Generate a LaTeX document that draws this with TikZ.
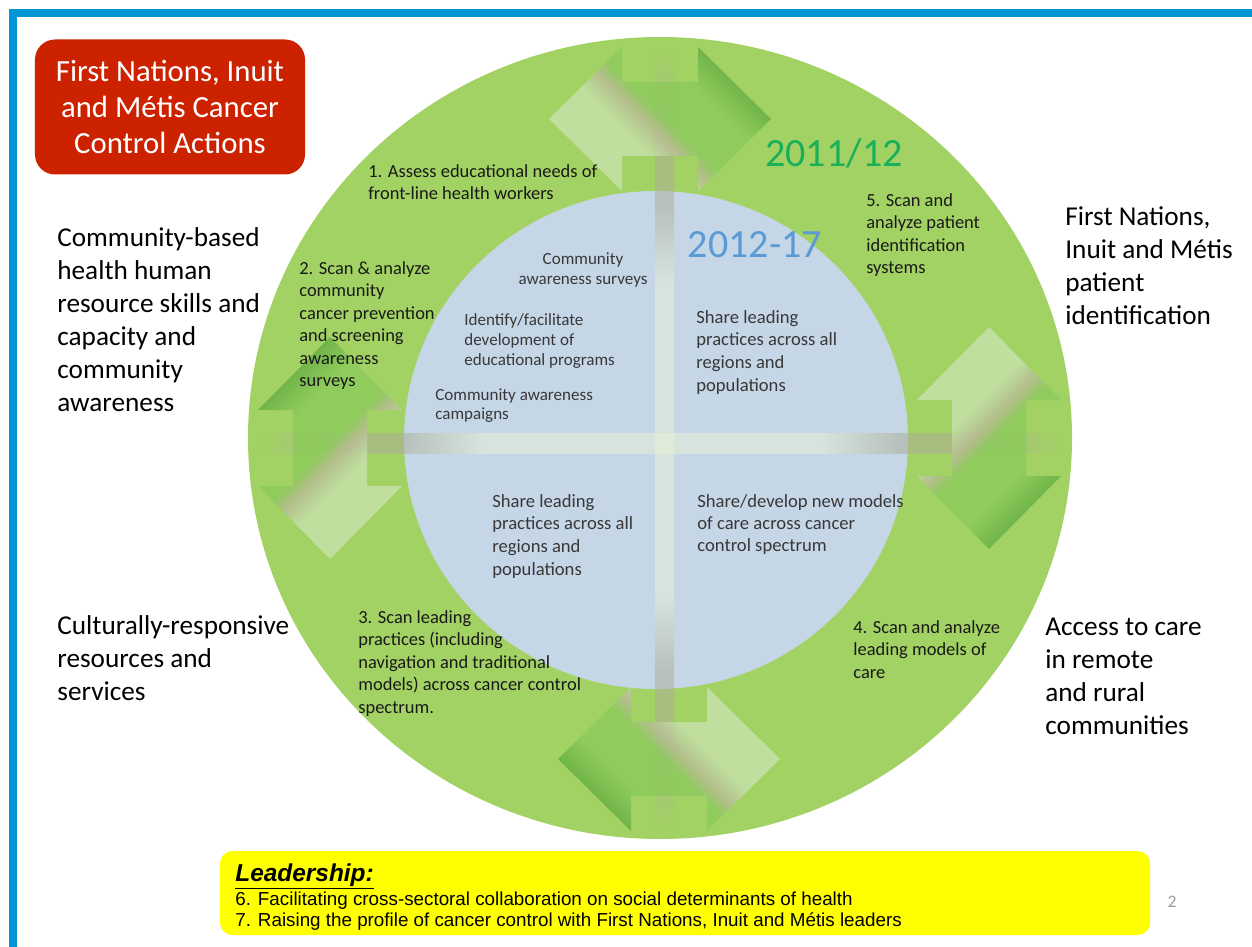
\documentclass[tikz,border=0pt]{standalone}
\usepackage{fontspec}
\setmainfont{Carlito}
\newfontfamily\arialfont{Liberation Sans}
\usepackage{xcolor}
\usepackage{tikz}
\usetikzlibrary{calc}

\definecolor{framebl}{HTML}{0096D6}
\definecolor{titlered}{HTML}{CC2200}
\definecolor{ringgreen}{HTML}{A3D264}
\definecolor{innerblue}{HTML}{C5D6E7}
\definecolor{arlight}{HTML}{C5E2A8}
\definecolor{arstripe}{HTML}{B6BB92}
\definecolor{armid}{HTML}{8DCB5C}
\definecolor{ardark}{HTML}{5AA53B}
\definecolor{barend}{HTML}{A3D264}
\definecolor{barout}{HTML}{ACAE98}
\definecolor{barin}{HTML}{E6F0D6}
\definecolor{yeargreen}{HTML}{1AB05A}
\definecolor{yearblue}{HTML}{5B9BD5}
\definecolor{leadyellow}{HTML}{FFFF00}

\pgfdeclareverticalshading{arrowshade}{100bp}{color(0bp)=(arlight); color(41bp)=(arlight); color(47bp)=(arstripe); color(51bp)=(armid); color(63bp)=(armid); color(75bp)=(ardark); color(100bp)=(ardark)}
\pgfdeclarehorizontalshading{barhshade}{100bp}{color(0bp)=(barend); color(25bp)=(barend); color(30bp)=(barout); color(34bp)=(barout); color(39bp)=(barin); color(60bp)=(barin); color(65bp)=(barout); color(70bp)=(barout); color(75bp)=(barend); color(100bp)=(barend)}
\pgfdeclareverticalshading{barvshade}{100bp}{color(0bp)=(barend); color(25bp)=(barend); color(30bp)=(barout); color(35bp)=(barout); color(40bp)=(barin); color(60bp)=(barin); color(65bp)=(barout); color(70bp)=(barout); color(75bp)=(barend); color(100bp)=(barend)}

\tikzset{
  ringtxt/.style={font=\fontsize{10.5}{12.8}\selectfont, align=left, anchor=north west, inner sep=0pt, text=black!90},
  innertxt/.style={ringtxt, text=black!78},
  sidetxt/.style={font=\fontsize{15.5}{18.8}\selectfont, align=left, anchor=north west, inner sep=0pt},
  yeartxt/.style={font=\fontsize{22.8}{26}\selectfont, inner sep=0pt},
  leadtxt/.style={font=\arialfont\fontsize{10.7}{12}\selectfont, anchor=north west, inner sep=0pt}
}

\begin{document}
\begin{tikzpicture}[x=0.2mm,y=-0.2mm]
	\useasboundingbox (0,0) rectangle (1252,947);

	% frame
	\fill[framebl] (10,9) rectangle (1252,17);
	\fill[framebl] (9,9) rectangle (17,947);

	% outer ring and inner circle
	\coordinate (O) at (660,438);
	\coordinate (I) at (656,440);
	\fill[ringgreen] (O) ellipse [x radius=412, y radius=401];
	\fill[innerblue] (I) ellipse [x radius=252, y radius=249];

	% cross
	\shade[shading=barhshade,opacity=0.55] (258,433) rectangle (1062,453);
	\shade[shading=barvshade,opacity=0.55] (655,47) rectangle (674,830);

	% double arrows: centre x / centre y / rotation / shading angle
	\foreach \cx/\cy/\rot/\ang in {660/119/0/-45, 989/438/90/-135, 669/759/0/135, 330/448/90/45}{
		\begin{scope}[shift={(\cx,\cy)},rotate=\rot]
			\shade[shading=arrowshade,shading angle=\ang,opacity=0.86] (-111,0) -- (-38,-72) -- (-38,-37) -- (38,-37) -- (38,-72)
				-- (111,0) -- (38,72) -- (38,37) -- (-38,37) -- (-38,72) -- cycle;
		\end{scope}
	}

	% title
	\node[fill=titlered, text=white, rounded corners=4mm, minimum width=54mm, minimum height=27mm,
		align=center, font=\fontsize{17.5}{20.5}\selectfont] (title) at (170,107)
		{First Nations, Inuit\\and Métis Cancer\\Control Actions};

	% years
	\node[yeartxt, text=yeargreen] (y1) at (834,153) {2011/12};
	\node[yeartxt, text=yearblue] (y2) at (755,245) {2012-17};

	% actions on the ring
	\node[ringtxt] (act1) at (368,164) {1. Assess educational needs of\\front-line health workers};
	\node[ringtxt] (act2) at (299,261) {2. Scan \& analyze\\community\\cancer prevention\\and screening\\awareness\\surveys};
	\node[ringtxt] (act5) at (866,193) {5. Scan and\\analyze patient\\identification\\systems};
	\node[ringtxt] (act3) at (358,610) {3. Scan leading\\practices (including\\navigation and traditional\\models) across cancer control\\spectrum.};
	\node[ringtxt] (act4) at (853,620) {4. Scan and analyze\\leading models of\\care};

	% actions in the inner circle
	\node[innertxt, anchor=north, align=center, font=\fontsize{9.7}{11.4}\selectfont] (surv) at (583,252) {Community\\awareness surveys};
	\node[innertxt, font=\fontsize{9.7}{11.4}\selectfont] (educ) at (464,313) {Identify/facilitate\\development of\\educational programs};
	\node[innertxt, font=\fontsize{9.7}{11}\selectfont] (camp) at (435,388) {Community awareness\\campaigns};
	\node[innertxt, font=\fontsize{10.6}{12.9}\selectfont] (shareA) at (696,310) {Share leading\\practices across all\\regions and\\populations};
	\node[innertxt, font=\fontsize{10.6}{12.9}\selectfont] (shareB) at (492,494) {Share leading\\practices across all\\regions and\\populations};
	\node[innertxt, font=\fontsize{10.6}{12.5}\selectfont] (models) at (697,494) {Share/develop new models\\of care across cancer\\control spectrum};

	% themes
	\node[sidetxt] (hhr) at (57,227) {Community-based\\health human\\resource skills and\\capacity and\\community\\awareness};
	\node[sidetxt] (pid) at (1065,206) {First Nations,\\Inuit and Métis\\patient\\identification};
	\node[sidetxt] (cult) at (57,615) {Culturally-responsive\\resources and\\services};
	\node[sidetxt] (acc) at (1045,618) {Access to care\\in remote\\and rural\\communities};

	% leadership
	\node[fill=leadyellow, rounded corners=2.5mm, minimum width=186mm, minimum height=16.8mm] (lead) at (685,893) {};
	\node[leadtxt, font=\arialfont\fontsize{13.9}{15}\selectfont\bfseries\itshape] (leadhead) at (235,863) {\underline{Leadership:}};
	\node[leadtxt] (lead6) at (235,892) {6. Facilitating cross-sectoral collaboration on social determinants of health};
	\node[leadtxt] (lead7) at (235,912) {7. Raising the profile of cancer control with First Nations, Inuit and Métis leaders};

	\node[font=\fontsize{10}{11}\selectfont, text=black!40, inner sep=0pt] (pgno) at (1172,902) {2};
\end{tikzpicture}
\end{document}
